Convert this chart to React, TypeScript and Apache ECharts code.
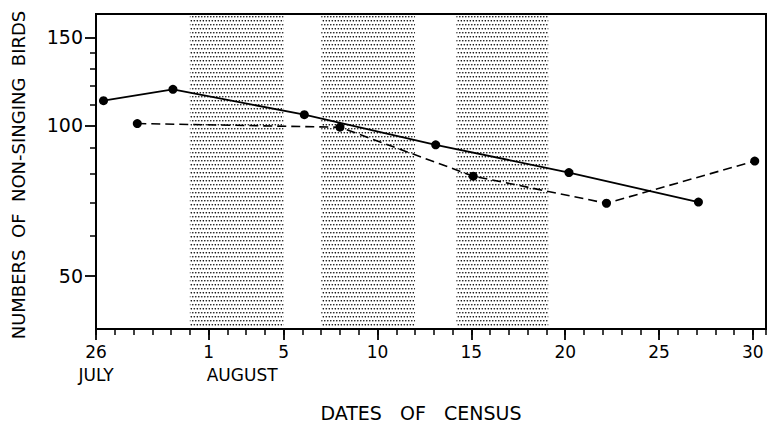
import React, { useEffect, useRef } from "react";
import * as echarts from "echarts";

// Days counted from 26 July (day 0)
const tickDays = [0, 6, 10, 15, 20, 25, 30, 35];
const tickLabels = ["26", "1", "5", "10", "15", "20", "25", "30"];
const monthDays = [0, 5.9];
const monthLabels = ["JULY", "AUGUST"];

// shaded periods [start day, end day]
const bandStarts = [5, 12, 19.2];
const bandEnds = [10, 17, 24.1];

// solid series
const solidDays = [0.4, 4.1, 11.1, 18.1, 25.2, 32.1];
const solidValues = [112, 118, 105, 91.4, 80.4, 70.2];

// dashed series
const dashedDays = [2.2, 13.0, 20.1, 27.2, 35.1];
const dashedValues = [100.8, 99.1, 79.1, 69.8, 84.8];

const yMajor = [50, 100, 150];
const yMinor = [60, 70, 80, 90, 110, 120, 130, 140];

const FONT = "DejaVu Sans";

export default function App() {
  const ref = useRef<HTMLDivElement>(null);
  useEffect(() => {
    if (!ref.current) return;
    const chart = echarts.init(ref.current, null, { renderer: "svg" });
    const dotSvg =
      "<svg xmlns='http://www.w3.org/2000/svg' width='6' height='8'>" +
      "<circle cx='0.8' cy='0.8' r='0.8' fill='#000'/>" +
      "<circle cx='3.8' cy='0.8' r='0.8' fill='#000'/>" +
      "<circle cx='2.3' cy='4.8' r='0.8' fill='#000'/>" +
      "<circle cx='5.3' cy='4.8' r='0.8' fill='#000'/>" +
      "</svg>";
    const pattern = {
      image: "data:image/svg+xml;charset=utf-8," + encodeURIComponent(dotSvg),
      repeat: "repeat",
      imageWidth: 6,
      imageHeight: 8,
    };
    const xMin = 0;
    const xMax = 35.7;
    const yMin = 39.1;
    const yMax = 167;
    const baseX = {
      type: "value",
      min: xMin,
      max: xMax,
      position: "bottom",
      splitLine: { show: false },
    };
    const baseY = {
      type: "log",
      logBase: 10,
      min: yMin,
      max: yMax,
      position: "left",
      splitLine: { show: false },
    };
    chart.setOption({
      animation: false,
      grid: {
        left: 96,
        right: 4,
        top: 14,
        bottom: 95,
        show: true,
        borderColor: "#000",
        borderWidth: 2,
      },
      xAxis: [
        {
          ...baseX,
          interval: 1,
          axisLine: { show: true, lineStyle: { color: "#000", width: 2 } },
          axisTick: { show: true, length: 6, lineStyle: { color: "#000", width: 1.5 } },
          axisLabel: { show: false },
        },
        {
          ...baseX,
          axisLine: { show: false },
          axisTick: {
            show: true,
            customValues: tickDays,
            length: 11,
            lineStyle: { color: "#000", width: 1.8 },
          },
          axisLabel: {
            show: true,
            customValues: tickDays,
            formatter: (v: number) => {
              const i = tickDays.indexOf(v);
              return i >= 0 ? tickLabels[i] : "";
            },
            margin: 14,
            color: "#000",
            fontSize: 17,
            fontFamily: FONT,
          },
        },
        {
          ...baseX,
          axisLine: { show: false },
          axisTick: { show: false },
          axisLabel: {
            show: true,
            customValues: [monthDays[0]],
            formatter: () => monthLabels[0],
            margin: 37,
            color: "#000",
            fontSize: 17,
            fontFamily: FONT,
          },
        },
        {
          ...baseX,
          axisLine: { show: false },
          axisTick: { show: false },
          axisLabel: {
            show: true,
            customValues: [monthDays[1]],
            formatter: () => monthLabels[1],
            align: "left",
            margin: 37,
            color: "#000",
            fontSize: 17,
            fontFamily: FONT,
          },
        },
      ],
      yAxis: [
        {
          ...baseY,
          axisLine: { show: true, lineStyle: { color: "#000", width: 2 } },
          axisTick: {
            show: true,
            customValues: yMajor,
            length: 11,
            lineStyle: { color: "#000", width: 1.8 },
          },
          axisLabel: {
            show: true,
            customValues: yMajor,
            formatter: (v: number) => String(Math.round(v)),
            margin: 13,
            color: "#000",
            fontSize: 19,
            fontFamily: FONT,
          },
        },
        {
          ...baseY,
          axisLine: { show: false },
          axisTick: {
            show: true,
            customValues: yMinor,
            length: 6,
            lineStyle: { color: "#000", width: 1.5 },
          },
          axisLabel: { show: false },
        },
      ],
      series: [
        {
          type: "line",
          xAxisIndex: 0,
          yAxisIndex: 0,
          data: [],
          z: 1,
          silent: true,
          markArea: {
            silent: true,
            itemStyle: { color: pattern, borderWidth: 0 },
            data: bandStarts.map((s, i) => [{ xAxis: s }, { xAxis: bandEnds[i] }]),
          },
        },
        {
          type: "line",
          xAxisIndex: 0,
          yAxisIndex: 0,
          z: 3,
          data: solidDays.map((d, i) => [d, solidValues[i]]),
          symbol: "circle",
          symbolSize: 9,
          itemStyle: { color: "#000" },
          lineStyle: { color: "#000", width: 1.8, type: "solid" },
        },
        {
          type: "line",
          xAxisIndex: 0,
          yAxisIndex: 0,
          z: 3,
          data: dashedDays.map((d, i) => [d, dashedValues[i]]),
          symbol: "circle",
          symbolSize: 9,
          itemStyle: { color: "#000" },
          lineStyle: { color: "#000", width: 1.6, type: [9, 5] },
        },
      ],
      graphic: [
        {
          type: "text",
          x: 18,
          y: 175,
          rotation: Math.PI / 2,
          style: {
            text: "NUMBERS  OF  NON-SINGING  BIRDS",
            fontSize: 18,
            fontFamily: FONT,
            fill: "#000",
            align: "center",
            verticalAlign: "middle",
          },
        },
        {
          type: "text",
          x: 421,
          y: 413,
          style: {
            text: "DATES   OF   CENSUS",
            fontSize: 19,
            fontFamily: FONT,
            fill: "#000",
            align: "center",
            verticalAlign: "middle",
          },
        },
      ],
    });
    return () => chart.dispose();
  }, []);
  return (
    <div
      ref={ref}
      style={{ position: "fixed", left: 0, top: 0, width: 770, height: 424, background: "#fff" }}
    />
  );
}
